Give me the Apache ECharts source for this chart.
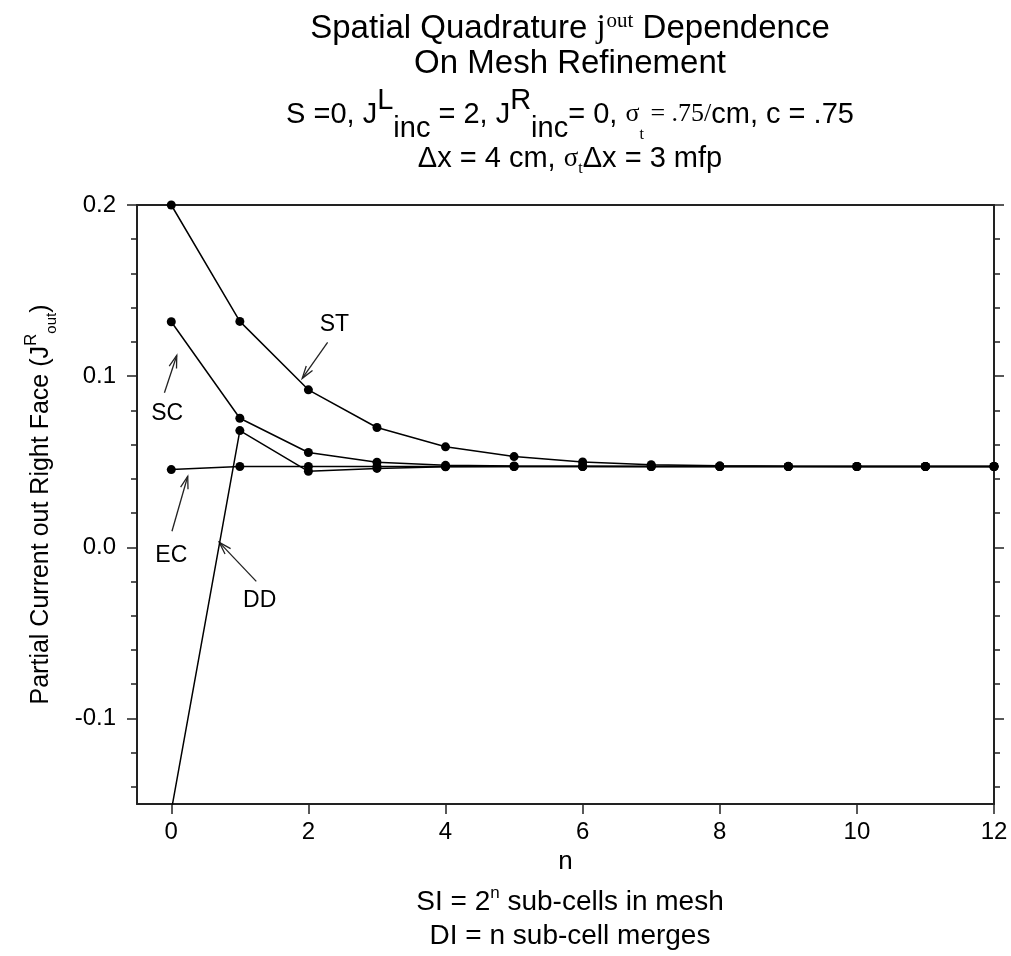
<!DOCTYPE html>
<html>
<head>
<meta charset="utf-8">
<script src="https://cdn.jsdelivr.net/npm/echarts@6/dist/echarts.min.js"></script>
<style>
    html, body { margin: 0; padding: 0; background: #fff; }
    #chart { width: 1011px; height: 956px; }
</style>
</head>
<body>
<div id="chart"></div>
<script>
// n = refinement level
const nValues = [0, 1, 2, 3, 4, 5, 6, 7, 8, 9, 10, 11, 12];
const stValues = [0.200, 0.132, 0.092, 0.070, 0.0587, 0.0530, 0.0499, 0.0482, 0.0476, 0.0473, 0.0472, 0.0472, 0.0472];
const scValues = [0.1318, 0.0754, 0.0554, 0.0497, 0.0479, 0.0475, 0.0473, 0.0472, 0.0472, 0.0472, 0.0472, 0.0472, 0.0472];
const ecValues = [0.0454, 0.0472, 0.0472, 0.0472, 0.0472, 0.0472, 0.0472, 0.0472, 0.0472, 0.0472, 0.0472, 0.0472, 0.0472];
const ddValues = [-0.154, 0.0682, 0.0444, 0.0461, 0.0470, 0.0472, 0.0472, 0.0472, 0.0472, 0.0472, 0.0472, 0.0472, 0.0472];

const xTicks = [0, 2, 4, 6, 8, 10, 12];
const yMajorTicks = [-0.1, 0.0, 0.1, 0.2];
const yMinorTicks = [-0.14, -0.12, -0.08, -0.06, -0.04, -0.02, 0.02, 0.04, 0.06, 0.08, 0.12, 0.14, 0.16, 0.18];

// annotations: label, text pos, arrow tail, arrow tip (data coords)
const noteLabels = ['ST', 'SC', 'EC', 'DD'];
const noteText = [[2.38, 0.130], [-0.06, 0.078], [0.0, -0.005], [1.29, -0.031]];
const noteTail = [[2.28, 0.1197], [-0.10, 0.0903], [0.01, 0.0094], [1.24, -0.0199]];
const noteTip = [[1.91, 0.0987], [0.08, 0.1121], [0.24, 0.0415], [0.70, 0.0029]];

const FONT = '"Liberation Sans", Arial, sans-serif';
const SERIF = '"Liberation Serif", "Times New Roman", serif';
const CX = 565; // text block centre, over the plot

function pairs(vals) {
    return nValues.map((n, i) => [n, vals[i]]);
}

function lineSeries(name, vals) {
    return {
        name: name,
        type: 'line',
        data: pairs(vals),
        symbol: 'circle',
        symbolSize: 9,
        clip: true,
        itemStyle: { color: '#000' },
        lineStyle: { color: '#000', width: 1.5 },
        animation: false
    };
}

function minorAxis(pos) {
    return {
        type: 'value',
        position: pos,
        min: -0.15,
        max: 0.2,
        axisLine: { show: false, onZero: false },
        axisTick: { show: true, customValues: yMinorTicks, length: 6, lineStyle: { color: '#222', width: 1.5 } },
        axisLabel: { show: false },
        splitLine: { show: false }
    };
}

const noteData = noteLabels.map((lab, i) => [
    noteText[i][0], noteText[i][1], noteTail[i][0], noteTail[i][1], noteTip[i][0], noteTip[i][1], lab
]);

const chart = echarts.init(document.getElementById('chart'));
const option = {
    backgroundColor: '#fff',
    animation: false,
    title: [{
        text: 'Spatial Quadrature {j|j}{sup|out} Dependence\nOn Mesh Refinement',
        left: CX,
        textAlign: 'center',
        top: 6,
        textStyle: {
            fontFamily: FONT, fontSize: 33, fontWeight: 'normal', color: '#000', lineHeight: 35,
            rich: {
                j: { fontFamily: SERIF, fontSize: 33, color: '#000' },
                sup: { fontFamily: SERIF, fontSize: 21, color: '#000', verticalAlign: 'top', lineHeight: 35, padding: [0, 0, 16, 1] }
            }
        }
    }, {
        text: 'S =0, J{big|L}{low|inc} = 2, J{big|R}{low|inc}= 0, {s|σ}{ss|t}{s| = .75/}cm, c = .75',
        left: CX,
        textAlign: 'center',
        top: 81,
        textStyle: {
            fontFamily: FONT, fontSize: 29, fontWeight: 'normal', color: '#000', lineHeight: 57,
            rich: {
                big: { fontFamily: FONT, fontSize: 29, color: '#000', verticalAlign: 'top', lineHeight: 57 },
                low: { fontFamily: FONT, fontSize: 29, color: '#000', verticalAlign: 'bottom', lineHeight: 36 },
                s: { fontFamily: SERIF, fontSize: 26, color: '#000' },
                ss: { fontFamily: SERIF, fontSize: 16, color: '#000', verticalAlign: 'bottom', lineHeight: 39 }
            }
        }
    }, {
        text: 'Δx = 4 cm, {s|σ}{ss|t}Δx = 3 mfp',
        left: CX,
        textAlign: 'center',
        top: 136,
        textStyle: {
            fontFamily: FONT, fontSize: 29, fontWeight: 'normal', color: '#000', lineHeight: 36,
            rich: {
                s: { fontFamily: SERIF, fontSize: 27, color: '#000' },
                ss: { fontFamily: SERIF, fontSize: 16, color: '#000', verticalAlign: 'bottom', lineHeight: 28 }
            }
        }
    }, {
        text: 'SI = 2{sup|n} sub-cells in mesh\nDI = n sub-cell merges',
        left: CX,
        textAlign: 'center',
        top: 880,
        textStyle: {
            fontFamily: FONT, fontSize: 28, fontWeight: 'normal', color: '#000', lineHeight: 34,
            rich: {
                sup: { fontFamily: FONT, fontSize: 17, color: '#000', verticalAlign: 'top', lineHeight: 34, padding: [0, 0, 12, 0] }
            }
        }
    }],
    grid: { left: 137, top: 205, width: 857, height: 599, containLabel: false },
    xAxis: [{
        type: 'value',
        position: 'bottom',
        min: -0.5,
        max: 12,
        name: 'n',
        nameLocation: 'middle',
        nameGap: 41,
        nameTextStyle: { fontFamily: FONT, fontSize: 26, color: '#000' },
        axisLine: { show: true, onZero: false, lineStyle: { color: '#222', width: 2 } },
        axisTick: { show: true, customValues: xTicks, length: 10, lineStyle: { color: '#222', width: 1.5 } },
        axisLabel: { customValues: xTicks, fontFamily: FONT, fontSize: 24, color: '#000', margin: 16 },
        splitLine: { show: false }
    }, {
        type: 'value',
        position: 'top',
        min: -0.5,
        max: 12,
        axisLine: { show: true, onZero: false, lineStyle: { color: '#222', width: 2 } },
        axisTick: { show: false },
        axisLabel: { show: false },
        splitLine: { show: false }
    }],
    yAxis: [{
        type: 'value',
        position: 'left',
        min: -0.15,
        max: 0.2,
        name: 'Partial Current out Right Face (J{sup|R}{sub|out})',
        nameLocation: 'middle',
        nameRotate: 90,
        nameGap: 78,
        nameTextStyle: {
            fontFamily: FONT, fontSize: 25, color: '#000', lineHeight: 36,
            rich: {
                sup: { fontFamily: FONT, fontSize: 17, color: '#000', verticalAlign: 'top', lineHeight: 36 },
                sub: { fontFamily: FONT, fontSize: 15, color: '#000', verticalAlign: 'bottom', lineHeight: 24 }
            }
        },
        axisLine: { show: true, onZero: false, lineStyle: { color: '#222', width: 2 } },
        axisTick: { show: true, customValues: yMajorTicks, length: 10, lineStyle: { color: '#222', width: 1.5 } },
        axisLabel: {
            customValues: yMajorTicks, fontFamily: FONT, fontSize: 24, color: '#000', margin: 21,
            formatter: v => v.toFixed(1)
        },
        splitLine: { show: false }
    }, minorAxis('left'), {
        type: 'value',
        position: 'right',
        min: -0.15,
        max: 0.2,
        axisLine: { show: true, onZero: false, lineStyle: { color: '#222', width: 2 } },
        axisTick: { show: true, customValues: yMajorTicks, length: 10, lineStyle: { color: '#222', width: 1.5 } },
        axisLabel: { show: false },
        splitLine: { show: false }
    }, minorAxis('right')],
    series: [
        lineSeries('ST', stValues),
        lineSeries('SC', scValues),
        lineSeries('EC', ecValues),
        lineSeries('DD', ddValues),
        {
            name: 'notes',
            type: 'custom',
            data: noteData,
            silent: true,
            renderItem: function (params, api) {
                const t = api.coord([api.value(0), api.value(1)]);
                const a = api.coord([api.value(2), api.value(3)]);
                const b = api.coord([api.value(4), api.value(5)]);
                const ang = Math.atan2(b[1] - a[1], b[0] - a[0]);
                const hl = 13, spread = 0.3;
                const h1 = [b[0] - hl * Math.cos(ang - spread), b[1] - hl * Math.sin(ang - spread)];
                const h2 = [b[0] - hl * Math.cos(ang + spread), b[1] - hl * Math.sin(ang + spread)];
                const stroke = { stroke: '#222', lineWidth: 1.3, fill: null };
                return {
                    type: 'group',
                    children: [
                        { type: 'line', shape: { x1: a[0], y1: a[1], x2: b[0], y2: b[1] }, style: stroke },
                        { type: 'polyline', shape: { points: [h1, b, h2] }, style: stroke },
                        {
                            type: 'text',
                            x: t[0], y: t[1],
                            style: {
                                text: noteLabels[params.dataIndex],
                                fontFamily: FONT, fontSize: 23, fill: '#000',
                                align: 'center', verticalAlign: 'middle'
                            }
                        }
                    ]
                };
            }
        }
    ]
};
chart.setOption(option);
</script>
</body>
</html>
